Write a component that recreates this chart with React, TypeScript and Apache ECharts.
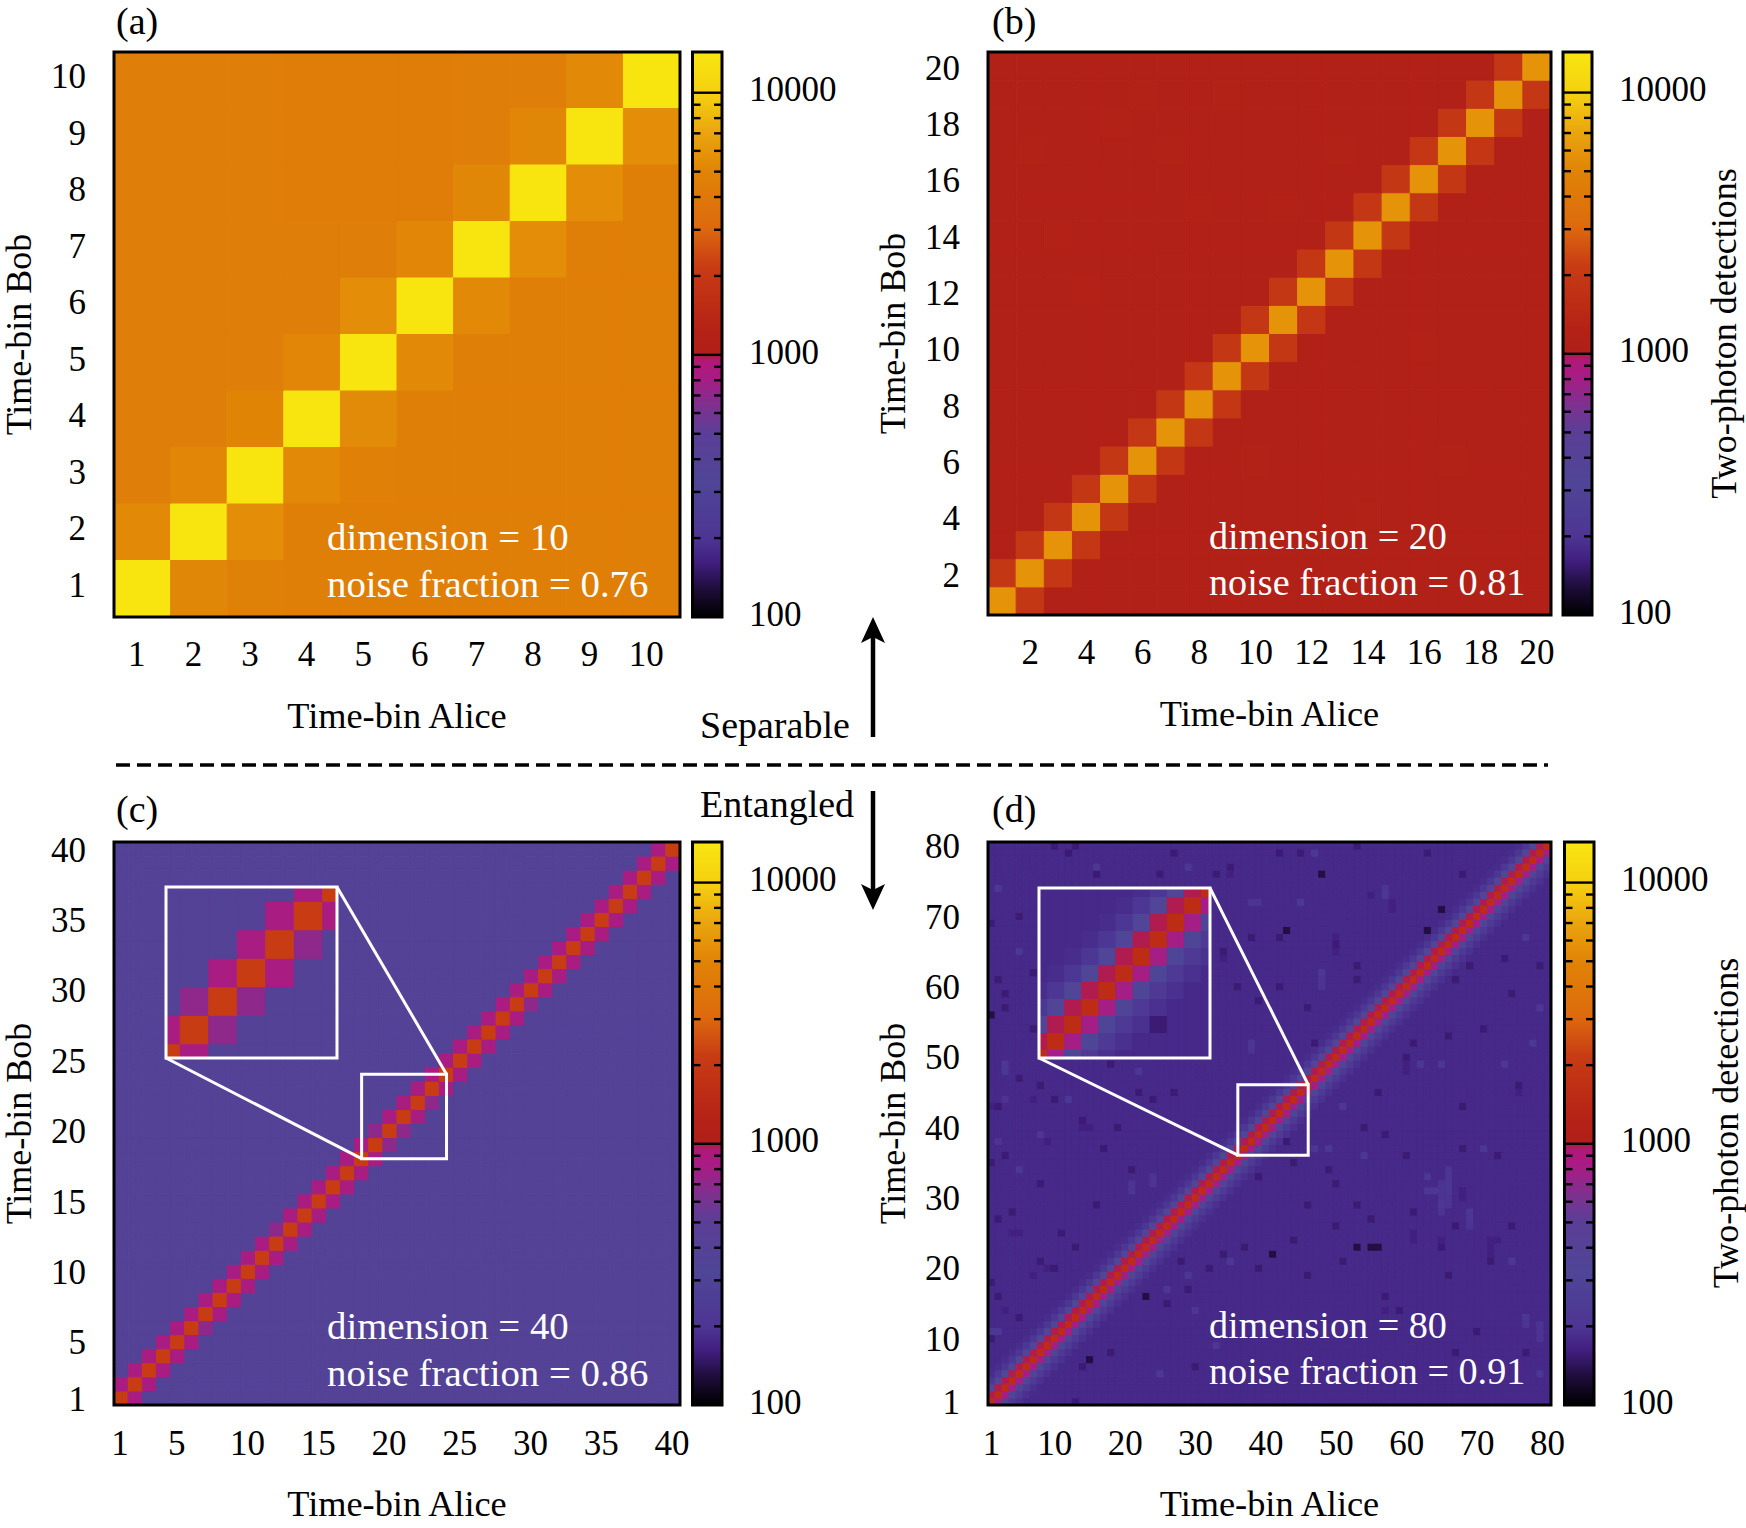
import React, { useEffect, useRef } from "react";
import * as echarts from "echarts";

const FONT = "Liberation Serif";

// colour bar range, counts
const colorMin = 100;
const colorMax = 14300;
const colorLabels = [100, 1000, 10000];
const colorMajorLines = [1000, 10000];
const colorMinorTicks = [200, 300, 400, 500, 600, 700, 800, 900, 2000, 3000, 4000, 5000, 6000, 7000, 8000, 9000];

// palette: [position from bottom 0..1, colour]
const paletteStops: [number, string][] = [
  [0, "#000000"],
  [0.047, "#1c0c36"],
  [0.096, "#401e7e"],
  [0.138, "#4d3593"],
  [0.235, "#4f4597"],
  [0.326, "#5b3e96"],
  [0.368, "#7a3390"],
  [0.424, "#a81c84"],
  [0.452, "#b0187a"],
  [0.47, "#b02018"],
  [0.507, "#b42216"],
  [0.62, "#c83c14"],
  [0.69, "#dd6a0e"],
  [0.787, "#e08306"],
  [0.857, "#eaa50e"],
  [0.927, "#f5d010"],
  [1, "#f8e610"],
];

// (a) dimension 10, every cell read by eye, top row is bin 10
const aRows = [
  [4550, 4550, 4500, 4450, 4450, 4450, 4500, 4500, 5300, 14000],
  [4550, 4550, 4550, 4450, 4450, 4450, 4500, 5150, 14000, 5500],
  [4500, 4500, 4500, 4450, 4450, 4450, 5200, 14000, 5500, 4650],
  [4550, 4500, 4500, 4500, 4500, 5100, 14000, 5500, 4650, 4600],
  [4550, 4500, 4500, 4500, 5500, 14000, 5300, 4650, 4600, 4600],
  [4550, 4500, 4500, 5100, 14000, 5300, 4600, 4600, 4600, 4600],
  [4500, 4500, 5000, 14000, 5400, 4600, 4600, 4600, 4600, 4600],
  [4550, 5100, 14000, 5300, 4700, 4650, 4600, 4600, 4600, 4600],
  [5300, 14000, 5500, 4650, 4650, 4600, 4600, 4600, 4600, 4600],
  [14000, 5200, 4800, 4650, 4650, 4600, 4600, 4600, 4600, 4600],
];

// (b) dimension 20: level by distance from the diagonal, then faint patches
const bBackground = 1130;
const bBands = [5900, 1950];
const bLight: [number, number][] = [[5, 18], [6, 19], [7, 17], [8, 15], [2, 17], [9, 19], [11, 15], [13, 17], [3, 14], [16, 10], [4, 12], [10, 6], [17, 6], [14, 4]];
const bDark: [number, number][] = [[5, 17], [8, 18], [10, 17], [7, 14], [7, 15], [5, 13], [1, 15], [12, 19], [3, 11], [15, 8], [11, 4], [6, 8]];

// (c) dimension 40
const cBackground = 385;
const cBands = [2170, 840];
const cPaleNeighbours: [number, number][] = [[20, 19], [21, 20], [23, 22], [19, 20], [7, 6], [30, 29], [12, 13]];

// (d) dimension 80: levels above and below the diagonal, background, then cells picked from the crops
const dBackground = 177;
const dBandsAbove = [1600, 980, 330, 215, 185];
const dBandsBelow = [1600, 800, 320, 225, 190];
const dDarkest: [number, number][] = [
  [48, 76], [43, 68], [63, 68], [65, 71], [1, 56], [53, 23], [55, 23], [56, 23], [41, 22], [15, 7], [23, 16],
];
const dDark: [number, number][] = [
  [43, 38], [68, 76], [68, 43], [46, 57], [47, 52], [66, 53], [67, 61], [75, 59], [79, 63], [69, 63], [53, 63], [53, 61], [74, 64],
  [76, 46], [42, 67], [42, 60], [50, 66], [42, 79], [45, 79], [63, 79], [53, 80], [60, 50], [61, 52], [56, 45], [71, 54],
  [3, 57], [3, 59], [2, 61], [1, 69], [5, 70], [5, 47], [13, 80], [10, 80], [36, 60], [38, 67], [35, 77], [7, 62], [7, 54],
  [2, 43], [10, 44], [14, 41], [22, 45], [18, 49], [24, 44], [27, 45], [8, 46], [12, 79], [27, 79], [25, 76], [16, 76],
  [33, 76], [34, 65], [39, 58], [3, 36], [1, 35], [21, 34], [17, 37], [19, 40], [8, 32], [16, 29], [4, 28], [22, 26],
  [11, 25], [13, 23], [8, 21], [10, 20], [28, 21], [29, 17], [26, 15], [30, 6], [18, 8], [14, 6], [13, 1], [1, 10],
  [1, 18], [2, 16], [32, 20], [39, 20], [34, 22], [37, 23], [39, 33], [5, 13], [2, 27], [50, 32], [49, 34], [61, 28],
  [53, 29], [55, 27], [50, 26], [46, 29], [44, 24], [51, 21], [66, 19], [46, 19], [75, 26], [67, 26], [68, 37], [60, 36],
  [57, 39], [54, 40], [44, 35], [73, 36], [70, 11], [77, 8], [67, 8], [65, 23], [72, 21], [59, 14], [57, 16],
];
const dDim: [number, number][] = [
  [72, 24], [72, 23], [72, 22], [73, 24], [68, 31], [68, 30], [61, 25], [61, 24], [65, 24], [57, 14], [58, 72], [58, 71],
  [50, 67], [50, 65], [60, 49], [60, 48], [76, 45], [55, 73], [9, 38], [15, 40], [14, 40], [5, 25], [4, 25], [7, 19], [9, 20],
  [7, 44], [35, 76], [34, 64], [1, 43], [3, 14],
];
const dLight: [number, number][] = [
  [57, 73], [74, 49], [78, 52], [79, 57], [77, 67], [47, 79], [48, 62], [45, 72], [62, 49], [65, 49], [51, 43],
  [3, 48], [3, 49], [5, 65], [2, 74], [16, 77], [12, 44], [22, 48], [29, 77], [38, 52], [5, 34], [8, 39], [29, 19],
  [26, 17], [1, 11], [2, 11], [35, 21], [63, 33], [65, 29], [63, 31], [64, 31], [71, 37], [69, 27], [49, 37], [47, 37],
  [75, 21], [77, 13], [79, 5], [54, 36], [66, 32], [66, 31], [69, 28], [25, 5], [12, 12], [30, 14], [33, 9], [72, 73],
];
const dPale: [number, number][] = [
  [65, 32], [65, 31], [65, 30], [65, 28], [66, 34], [66, 33], [66, 30], [66, 29], [69, 26], [77, 12], [79, 12], [79, 11], [79, 10],
  [57, 74], [48, 61], [48, 60], [2, 38], [21, 32], [21, 31], [24, 33], [24, 32], [38, 51], [38, 72], [39, 72], [3, 44],
];

// axis tick labels
const aTicks = [1, 2, 3, 4, 5, 6, 7, 8, 9, 10];
const bTicks = [2, 4, 6, 8, 10, 12, 14, 16, 18, 20];
const cTicks = [1, 5, 10, 15, 20, 25, 30, 35, 40];
const dTicks = [1, 10, 20, 30, 40, 50, 60, 70, 80];

// zoomed window of each inset, in bins
const cWindow = [18, 24];
const dWindow = [36, 46];

const cellRow = (x: number, y: number, count: number) => [x, y, count, Math.log10(count)];

const matrixCells = (rows: number[][]) =>
  rows.flatMap((row, r) => row.map((count, c) => cellRow(c + 1, rows.length - r, count)));

const bandCells = (
  size: number,
  background: number,
  above: number[],
  below: number[],
  patches: [[number, number][], number][]
) => {
  const patched = new Map<string, number>();
  patches.forEach(([cells, count]) => cells.forEach(([x, y]) => patched.set(x + "," + y, count)));
  const out: number[][] = [];
  for (let y = 1; y <= size; y++) {
    for (let x = 1; x <= size; x++) {
      const band = y >= x ? above[y - x] : below[x - y];
      const count = band ?? patched.get(x + "," + y) ?? background;
      out.push(cellRow(x, y, count));
    }
  }
  return out;
};

const aCells = matrixCells(aRows);
const bCells = bandCells(20, bBackground, bBands, bBands, [[bLight, 1175], [bDark, 1095]]);
const cBase = bandCells(40, cBackground, cBands, cBands, []);
const cCells = cBase.map((row) =>
  cPaleNeighbours.some(([x, y]) => x === row[0] && y === row[1]) ? cellRow(row[0], row[1], 700) : row
);
const dCells = bandCells(80, dBackground, dBandsAbove, dBandsBelow, [
  [dPale, 196],
  [dLight, 215],
  [dDim, 165],
  [dDark, 155],
  [dDarkest, 132],
]);

const hexToRgb = (hex: string) => [1, 3, 5].map((i) => parseInt(hex.slice(i, i + 2), 16));

const paletteAt = (t: number) => {
  let k = 0;
  while (k < paletteStops.length - 2 && t > paletteStops[k + 1][0]) k++;
  const [t0, c0] = paletteStops[k];
  const [t1, c1] = paletteStops[k + 1];
  const f = Math.min(1, Math.max(0, (t - t0) / (t1 - t0)));
  const a = hexToRgb(c0);
  const b = hexToRgb(c1);
  return `rgb(${a.map((v, i) => Math.round(v + (b[i] - v) * f)).join(",")})`;
};

const paletteColors = Array.from({ length: 256 }, (_, i) => paletteAt(i / 255));

const cellRender = (params: any, api: any) => {
  const x = api.value(0);
  const y = api.value(1);
  const corner = api.coord([x - 0.5, y + 0.5]);
  const size = api.size([1, 1]);
  const shape = echarts.graphic.clipRectByRect(
    { x: corner[0], y: corner[1], width: size[0], height: size[1] },
    params.coordSys
  );
  if (!shape) return null;
  const color = api.visual("color");
  return { type: "rect", shape, style: { fill: color, stroke: color, lineWidth: 1 } };
};

const barRender = (params: any, api: any) => {
  const top = api.coord([0, colorMax]);
  const bottom = api.coord([0, colorMin]);
  const cs = params.coordSys;
  return {
    type: "rect",
    shape: { x: cs.x, y: top[1], width: cs.width, height: bottom[1] - top[1] },
    style: {
      // top of the bar first: offsets have to rise
      fill: new echarts.graphic.LinearGradient(
        0,
        0,
        0,
        1,
        [...paletteStops].reverse().map(([t, color]) => ({ offset: 1 - t, color }))
      ),
    },
  };
};

const tickRender = (params: any, api: any) => {
  const y = api.coord([0, api.value(1)])[1];
  const cs = params.coordSys;
  const style = { stroke: "#000", lineWidth: 2.4 };
  if (colorMajorLines.includes(api.value(1))) {
    return { type: "line", shape: { x1: cs.x, y1: y, x2: cs.x + cs.width, y2: y }, style };
  }
  return {
    type: "group",
    children: [
      { type: "line", shape: { x1: cs.x, y1: y, x2: cs.x + 8, y2: y }, style },
      { type: "line", shape: { x1: cs.x + cs.width - 8, y1: y, x2: cs.x + cs.width, y2: y }, style },
    ],
  };
};

// white box on the plot and its two lines up to the inset corners
const boxRender = (insetLeft: number, insetTop: number, insetRight: number, insetBottom: number) => (params: any, api: any) => {
  const lo = api.coord([api.value(0), api.value(0)]);
  const hi = api.coord([api.value(1), api.value(1)]);
  const style = { stroke: "#fff", lineWidth: 3, fill: "none" };
  return {
    type: "group",
    children: [
      { type: "rect", shape: { x: lo[0], y: hi[1], width: hi[0] - lo[0], height: lo[1] - hi[1] }, style },
      { type: "line", shape: { x1: insetLeft, y1: insetBottom, x2: lo[0], y2: lo[1] }, style },
      { type: "line", shape: { x1: insetRight, y1: insetTop, x2: hi[0], y2: hi[1] }, style },
    ],
  };
};

// yNudge: the y labels in the figure sit a little off the cell centres, in bins
const Panels = [
  { cells: aCells, size: 10, ticks: aTicks, left: 114, top: 52, width: 566, height: 565, barLeft: 692.5, barWidth: 29.5, barName: false, xPad: [0, 11, 0, 0], yNudge: 0.06, xMargin: 20 },
  { cells: bCells, size: 20, ticks: bTicks, left: 988, top: 52, width: 563, height: 563, barLeft: 1563, barWidth: 29, barName: true, xPad: 0, yNudge: -0.08, xMargin: 20 },
  { cells: cCells, size: 40, ticks: cTicks, left: 114, top: 842, width: 566, height: 563, barLeft: 692.5, barWidth: 29.5, barName: false, xPad: [0, 2, 0, 0], yNudge: -0.08, xMargin: 21 },
  { cells: dCells, size: 80, ticks: dTicks, left: 988, top: 842, width: 563, height: 563, barLeft: 1564.5, barWidth: 29.5, barName: true, xPad: 0, yNudge: -0.16, xMargin: 21 },
];

const Insets = [
  { cells: cCells, win: cWindow, owner: 2, left: 166, top: 887, width: 171, height: 171 },
  { cells: dCells, win: dWindow, owner: 3, left: 1039, top: 888, width: 171, height: 170 },
];

const panelText = (text: string, x: number, y: number, size: number, fill = "#000") => ({
  type: "text",
  x,
  y,
  z: 20,
  style: { text, fill, font: `${size}px "${FONT}"`, verticalAlign: "middle" },
});

const sideText = (text: string, x: number, y: number) => ({
  type: "text",
  x,
  y,
  z: 20,
  rotation: Math.PI / 2,
  style: { text, fill: "#000", font: `36px "${FONT}"`, align: "center", verticalAlign: "middle" },
});

const arrow = (x: number, tail: number, tip: number) => {
  const dir = tip < tail ? 1 : -1;
  return [
    { type: "line", z: 20, shape: { x1: x, y1: tail, x2: x, y2: tip + dir * 14 }, style: { stroke: "#000", lineWidth: 4.5 } },
    {
      type: "polygon",
      z: 20,
      shape: {
        points: [
          [x, tip],
          [x + 12, tip + dir * 26],
          [x, tip + dir * 20],
          [x - 12, tip + dir * 26],
        ],
      },
      style: { fill: "#000" },
    },
  ];
};

const App = () => {
  const chartRef = useRef<HTMLDivElement>(null);

  useEffect(() => {
    const chartDom = chartRef.current;
    if (!chartDom) return;

    const myChart = echarts.init(chartDom, undefined, { renderer: "svg" });

    const grid: any[] = [];
    const xAxis: any[] = [];
    const yAxis: any[] = [];
    const series: any[] = [];
    const cellSeries: number[] = [];
    const labelStyle = { color: "#000", fontFamily: FONT, fontSize: 35 };
    const nameStyle = { color: "#000", fontFamily: FONT, fontSize: 36 };
    const hidden = { show: false };
    const gridBase = { show: true, outerBoundsMode: "none", backgroundColor: "transparent", borderWidth: 3 };

    Panels.forEach((p) => {
      const index = grid.length;
      grid.push({ ...gridBase, z: 6, left: p.left, top: p.top, width: p.width, height: p.height, borderColor: "#000" });
      const common = {
        type: "value",
        gridIndex: index,
        min: 0.5,
        max: p.size + 0.5,
        axisLine: hidden,
        axisTick: hidden,
        splitLine: hidden,
      };
      xAxis.push({
        ...common,
        name: "Time-bin Alice",
        nameLocation: "middle",
        nameGap: 81,
        nameTextStyle: { ...nameStyle, fontSize: 36.3 },
        axisLabel: { ...labelStyle, margin: p.xMargin, customValues: p.ticks, padding: p.xPad },
      });
      yAxis.push({
        ...common,
        name: "Time-bin Bob",
        nameLocation: "middle",
        nameGap: 77,
        nameTextStyle: nameStyle,
        axisLabel: {
          ...labelStyle,
          margin: 28,
          customValues: p.ticks.map((v) => v + p.yNudge),
          formatter: (v: number) => String(Math.round(v)),
        },
      });
      cellSeries.push(series.length);
      series.push({ type: "custom", xAxisIndex: index, yAxisIndex: index, data: p.cells, renderItem: cellRender, encode: { x: 0, y: 1 }, z: 2 });
    });

    Panels.forEach((p) => {
      const index = grid.length;
      grid.push({ ...gridBase, z: 6, left: p.barLeft, top: p.top, width: p.barWidth, height: p.height, borderColor: "#000" });
      xAxis.push({ type: "value", gridIndex: index, min: 0, max: 1, show: false });
      yAxis.push({
        type: "log",
        gridIndex: index,
        position: "right",
        min: colorMin,
        max: colorMax,
        axisLine: hidden,
        axisTick: hidden,
        splitLine: hidden,
        minorTick: hidden,
        axisLabel: {
          ...labelStyle,
          margin: 27,
          customValues: colorLabels.map((v) => v * 1.025),
          formatter: (v: number) => String(10 ** Math.round(Math.log10(v))),
        },
      });
      series.push({ type: "custom", xAxisIndex: index, yAxisIndex: index, data: [[0, colorMin]], renderItem: barRender, encode: { x: 0, y: 1 }, z: 2 });
      series.push({
        type: "custom",
        xAxisIndex: index,
        yAxisIndex: index,
        data: [...colorMinorTicks, ...colorMajorLines].map((v) => [0, v]),
        renderItem: tickRender,
        encode: { x: 0, y: 1 },
        z: 3,
      });
    });

    Insets.forEach((inset) => {
      const index = grid.length;
      grid.push({ ...gridBase, z: 7, left: inset.left, top: inset.top, width: inset.width, height: inset.height, borderColor: "#fff" });
      const common = { type: "value", gridIndex: index, min: inset.win[0], max: inset.win[1], show: false };
      xAxis.push(common);
      yAxis.push(common);
      cellSeries.push(series.length);
      series.push({
        type: "custom",
        xAxisIndex: index,
        yAxisIndex: index,
        data: inset.cells.filter((row) => row[0] >= inset.win[0] - 1 && row[0] <= inset.win[1] + 1 && row[1] >= inset.win[0] - 1 && row[1] <= inset.win[1] + 1),
        renderItem: cellRender,
        encode: { x: 0, y: 1 },
        z: 5,
      });
      series.push({
        type: "custom",
        xAxisIndex: inset.owner,
        yAxisIndex: inset.owner,
        data: [inset.win],
        renderItem: boxRender(inset.left, inset.top, inset.left + inset.width, inset.top + inset.height),
        encode: { x: 0, y: 1 },
        clip: false,
        z: 6,
      });
    });

    const option: any = {
      animation: false,
      backgroundColor: "#fff",
      grid,
      xAxis,
      yAxis,
      series,
      visualMap: {
        type: "continuous",
        show: false,
        dimension: 3,
        seriesIndex: cellSeries,
        min: Math.log10(colorMin),
        max: Math.log10(colorMax),
        inRange: { color: paletteColors },
      },
      graphic: [
        panelText("(a)", 116, 20.5, 38),
        panelText("(b)", 992, 20.5, 38),
        panelText("(c)", 116, 809, 38),
        panelText("(d)", 992, 809, 38),
        panelText("dimension = 10", 327, 536, 38.8, "#fff"),
        panelText("noise fraction = 0.76", 327, 583, 38.8, "#fff"),
        panelText("dimension = 20", 1209, 535.5, 38.2, "#fff"),
        panelText("noise fraction = 0.81", 1209, 581.5, 38.2, "#fff"),
        panelText("dimension = 40", 327, 1325, 38.8, "#fff"),
        panelText("noise fraction = 0.86", 327, 1372, 38.8, "#fff"),
        panelText("dimension = 80", 1209, 1325, 38.2, "#fff"),
        panelText("noise fraction = 0.91", 1209, 1371, 38.2, "#fff"),
        panelText("Separable", 700, 725, 38),
        panelText("Entangled", 700, 804, 38),
        sideText("Two-photon detections", 1724, 333.5),
        sideText("Two-photon detections", 1726, 1123),
        ...arrow(873, 737, 617),
        ...arrow(873, 791, 910),
        { type: "line", z: 20, shape: { x1: 116, y1: 765, x2: 1548, y2: 765 }, style: { stroke: "#000", lineWidth: 3.5, lineDash: [14, 7] } },
      ],
    };

    myChart.setOption(option);

    return () => {
      myChart.dispose();
    };
  }, []);

  return <div ref={chartRef} style={{ position: "fixed", left: 0, top: 0, width: 1746, height: 1528 }} />;
};

export default App;
